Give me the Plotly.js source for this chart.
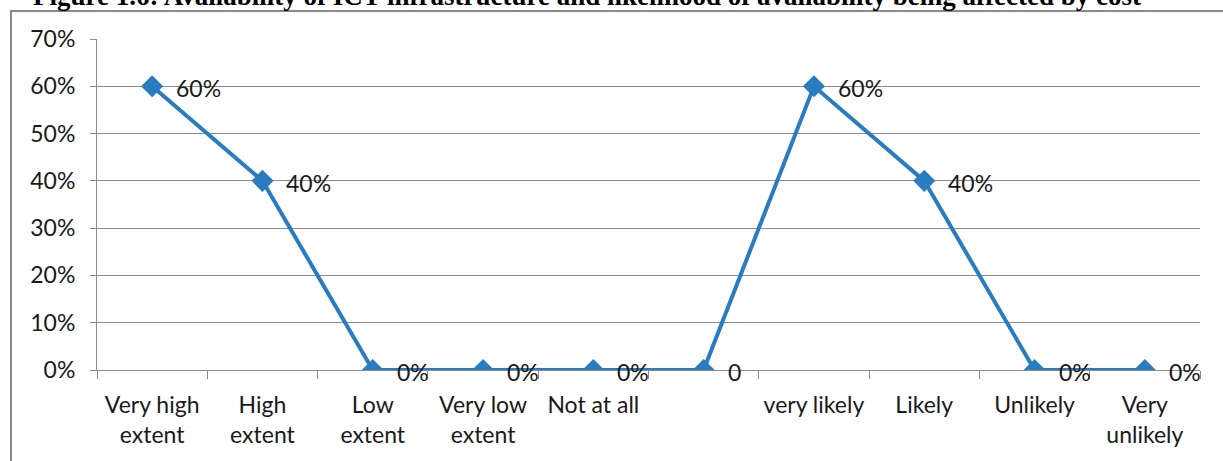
<!DOCTYPE html>
<html>
<head>
<meta charset="utf-8">
<script src="https://cdn.plot.ly/plotly-3.0.1.min.js"></script>
<style>
  html, body { margin: 0; padding: 0; background: #ffffff; }
  #frame { position: absolute; left: 10px; top: 10px; width: 1213px; height: 451px;
           border-top: 2px solid #8a8a8a; border-left: 2px solid #8a8a8a; box-sizing: border-box; }
  #chart { position: absolute; left: 0; top: 0; width: 1223px; height: 461px; }
</style>
</head>
<body>
<div id="frame"></div>
<div id="chart"></div>
<script>
const categories = ["Very high<br>extent", "High<br>extent", "Low<br>extent", "Very low<br>extent", "Not at all",
                    " ", "very likely", "Likely", "Unlikely", "Very<br>unlikely"];
const values = [0.60, 0.40, 0, 0, 0, 0, 0.60, 0.40, 0, 0];
const dataLabels = ["60%", "40%", "0%", "0%", "0%", "0", "60%", "40%", "0%", "0%"];
const yTickValues = [0, 0.1, 0.2, 0.3, 0.4, 0.5, 0.6, 0.7];
const yTickLabels = ["0%", "10%", "20%", "30%", "40%", "50%", "60%", "70%"];
const titleText = "Figure 1.6: Availability of ICT infrastructure and likelihood of availability being affected by cost";

const lineColor = "#2a7cc0";
const labelFont = { family: "Lato, 'Open Sans', sans-serif", size: 23, color: "#1a1a1a" };

const trace = {
  type: "scatter",
  mode: "lines+markers",
  x: categories,
  y: values,
  line: { color: lineColor, width: 4 },
  marker: { symbol: "diamond", size: 17, color: lineColor },
  hoverinfo: "skip",
  showlegend: false
};

const annotations = categories.map((c, i) => ({
  x: c, y: values[i], xref: "x", yref: "y",
  text: dataLabels[i], showarrow: false,
  xanchor: "left", yanchor: "middle", xshift: 22, yshift: -2,
  font: labelFont
}));

annotations.push({
  text: "<b>" + titleText + "</b>",
  xref: "paper", yref: "paper", x: -0.060, y: 1.078,
  xanchor: "left", yanchor: "bottom", showarrow: false,
  font: { family: "'Liberation Serif', 'Times New Roman', serif", size: 27, color: "#000" }
});

const layout = {
  width: 1223, height: 461,
  margin: { l: 97, r: 23, t: 39, b: 91 },
  paper_bgcolor: "rgba(0,0,0,0)",
  plot_bgcolor: "rgba(0,0,0,0)",
  font: labelFont,
  xaxis: {
    type: "category",
    categoryorder: "array",
    categoryarray: categories,
    range: [-0.5, 9.5],
    showgrid: false,
    showline: true, linecolor: "#8c8c8c", linewidth: 1,
    ticks: "outside", tickson: "boundaries", ticklen: 8, tickcolor: "#8c8c8c",
    ticklabelstandoff: 14,
    tickangle: 0,
    tickfont: labelFont,
    zeroline: false,
    fixedrange: true
  },
  yaxis: {
    range: [0, 0.7],
    tickvals: yTickValues,
    ticktext: yTickLabels,
    showgrid: true, gridcolor: "#8c8c8c", gridwidth: 1,
    showline: true, linecolor: "#8c8c8c", linewidth: 1,
    ticks: "outside", ticklen: 6, tickcolor: "#8c8c8c",
    ticklabelstandoff: 10,
    tickfont: labelFont,
    zeroline: false,
    fixedrange: true
  },
  annotations: annotations
};

Plotly.newPlot("chart", [trace], layout, { displayModeBar: false, staticPlot: true });
</script>
</body>
</html>
